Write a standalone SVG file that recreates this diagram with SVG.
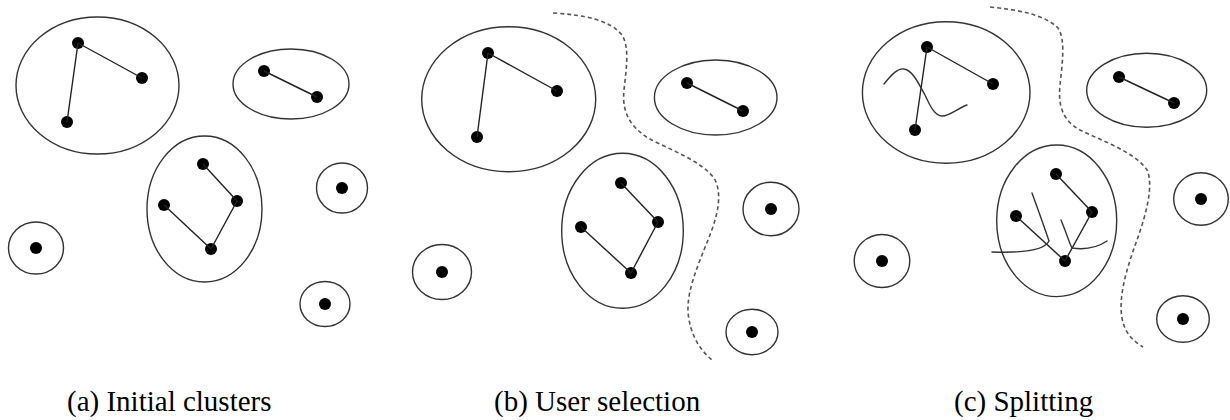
<svg xmlns="http://www.w3.org/2000/svg" width="1230" height="420" viewBox="0 0 1230 420">
<style>
.cl{fill:none;stroke:#333;stroke-width:1.4}
.dot{fill:#000}
.edge{stroke:#222;stroke-width:1.4;fill:none}
.cut{stroke:#333;stroke-width:1.4;fill:none;stroke-linecap:round}
.sel{stroke:#555;stroke-width:1.6;fill:none;stroke-dasharray:4 3}
.lbl{font-family:"Liberation Serif","Times New Roman",serif;font-size:29px;fill:#000}
</style>
<rect width="1230" height="420" fill="#fff"/>

<!-- Panel (a) -->
<g id="a-cluster1"><ellipse class="cl" cx="97.5" cy="85.5" rx="81.5" ry="68.5"/><circle class="dot" cx="78" cy="43" r="6"/><circle class="dot" cx="142" cy="78" r="6"/><circle class="dot" cx="67" cy="122" r="6"/></g>
<g id="a-cluster2"><ellipse class="cl" cx="291" cy="84" rx="58" ry="35"/><circle class="dot" cx="264" cy="71" r="6"/><circle class="dot" cx="317" cy="97" r="6"/></g>
<g id="a-cluster3"><ellipse class="cl" cx="204.5" cy="209" rx="57.5" ry="73"/><circle class="dot" cx="203" cy="164" r="6"/><circle class="dot" cx="237" cy="201" r="6"/><circle class="dot" cx="164" cy="205" r="6"/><circle class="dot" cx="211" cy="249" r="6"/></g>
<g id="a-single1"><ellipse class="cl" cx="342" cy="188" rx="25.5" ry="25"/><circle class="dot" cx="342" cy="188" r="6"/></g>
<g id="a-single2"><ellipse class="cl" cx="36" cy="248" rx="27.5" ry="26"/><circle class="dot" cx="36" cy="248" r="6"/></g>
<g id="a-single3"><ellipse class="cl" cx="325" cy="304" rx="25" ry="22.5"/><circle class="dot" cx="325" cy="304" r="6"/></g>

<!-- Panel (b) -->
<g id="b-cluster1"><ellipse class="cl" cx="508.7" cy="99.2" rx="87" ry="72.5"/><circle class="dot" cx="488" cy="53" r="6"/><circle class="dot" cx="557" cy="91" r="6"/><circle class="dot" cx="477" cy="137" r="6"/></g>
<g id="b-cluster2"><ellipse class="cl" cx="715.7" cy="97.5" rx="61.3" ry="37.5"/><circle class="dot" cx="687" cy="83" r="6"/><circle class="dot" cx="743" cy="111" r="6"/></g>
<g id="b-cluster3"><ellipse class="cl" cx="622.5" cy="230.8" rx="60.8" ry="77.5"/><circle class="dot" cx="621" cy="183" r="6"/><circle class="dot" cx="658" cy="222" r="6"/><circle class="dot" cx="581" cy="227" r="6"/><circle class="dot" cx="631" cy="273" r="6"/></g>
<g id="b-single1"><ellipse class="cl" cx="771" cy="209" rx="28" ry="26.7"/><circle class="dot" cx="771" cy="209" r="6"/></g>
<g id="b-single2"><ellipse class="cl" cx="442" cy="272" rx="29.5" ry="27.5"/><circle class="dot" cx="442" cy="272" r="6"/></g>
<g id="b-single3"><ellipse class="cl" cx="752" cy="332" rx="26" ry="22.7"/><circle class="dot" cx="752" cy="332" r="6"/></g>

<!-- Panel (c) -->
<g id="c-cluster1"><ellipse class="cl" cx="946.2" cy="92.5" rx="83.8" ry="70.8"/><circle class="dot" cx="927" cy="47" r="6"/><circle class="dot" cx="993" cy="84" r="6"/><circle class="dot" cx="915" cy="130" r="6"/></g>
<g id="c-cluster2"><ellipse class="cl" cx="1146.7" cy="90.3" rx="60" ry="37"/><circle class="dot" cx="1119" cy="77" r="6"/><circle class="dot" cx="1174" cy="103" r="6"/></g>
<g id="c-cluster3"><ellipse class="cl" cx="1056.7" cy="220.8" rx="60" ry="75.8"/><circle class="dot" cx="1056" cy="174" r="6"/><circle class="dot" cx="1092" cy="212" r="6"/><circle class="dot" cx="1016" cy="216" r="6"/><circle class="dot" cx="1065" cy="261" r="6"/></g>
<g id="c-single1"><ellipse class="cl" cx="1201" cy="199" rx="27.3" ry="26.3"/><circle class="dot" cx="1201" cy="199" r="6"/></g>
<g id="c-single2"><ellipse class="cl" cx="882" cy="261" rx="27.8" ry="26.5"/><circle class="dot" cx="882" cy="261" r="6"/></g>
<g id="c-single3"><ellipse class="cl" cx="1183" cy="319" rx="26.3" ry="23.2"/><circle class="dot" cx="1183" cy="319" r="6"/></g>

<g id="connectors">
<line class="edge" x1="78" y1="43" x2="142" y2="78"/>
<line class="edge" x1="78" y1="43" x2="67" y2="122"/>
<line class="edge" x1="264" y1="71" x2="317" y2="97"/>
<line class="edge" x1="203" y1="164" x2="237" y2="201"/>
<line class="edge" x1="237" y1="201" x2="211" y2="249"/>
<line class="edge" x1="164" y1="205" x2="211" y2="249"/>

<line class="edge" x1="488" y1="53" x2="557" y2="91"/>
<line class="edge" x1="488" y1="53" x2="477" y2="137"/>
<line class="edge" x1="687" y1="83" x2="743" y2="111"/>
<line class="edge" x1="621" y1="183" x2="658" y2="222"/>
<line class="edge" x1="658" y1="222" x2="631" y2="273"/>
<line class="edge" x1="581" y1="227" x2="631" y2="273"/>

<line class="edge" x1="927" y1="47" x2="993" y2="84"/>
<line class="edge" x1="927" y1="47" x2="915" y2="130"/>
<line class="edge" x1="1119" y1="77" x2="1174" y2="103"/>
<line class="edge" x1="1056" y1="174" x2="1092" y2="212"/>
<line class="edge" x1="1092" y1="212" x2="1065" y2="261"/>
<line class="edge" x1="1016" y1="216" x2="1065" y2="261"/>

<path class="sel" d="M553,13 C585,15 610,20 622,35 C630,48 626,70 624,90 C622,110 628,125 648,138 C670,150 700,160 714,178 C724,195 716,220 708,240 C698,265 687,290 688,312 C690,335 700,350 712,360"/>
<path class="sel" d="M990,7 C1020,10 1045,15 1058,28 C1066,40 1062,65 1060,85 C1058,105 1062,120 1080,130 C1100,140 1135,152 1147,170 C1154,185 1146,215 1137,240 C1128,265 1118,295 1122,318 C1125,335 1135,342 1143,347"/>

<path class="cut" d="M884,84 C892,74 898,68 904,69 C912,70 918,82 925,95 C930,106 935,116 942,116 C950,116 958,108 967,105"/>
<path class="cut" d="M1032,193 C1040,215 1046,232 1049,241 C1044,251 1020,253 992,252"/>
<path class="cut" d="M1061,220 C1066,232 1069,242 1072,248 C1085,250 1098,247 1107,241"/>
</g>

<text class="lbl" x="67" y="411">(a) Initial clusters</text>
<text class="lbl" x="494" y="411">(b) User selection</text>
<text class="lbl" x="954" y="411">(c) Splitting</text>
</svg>
